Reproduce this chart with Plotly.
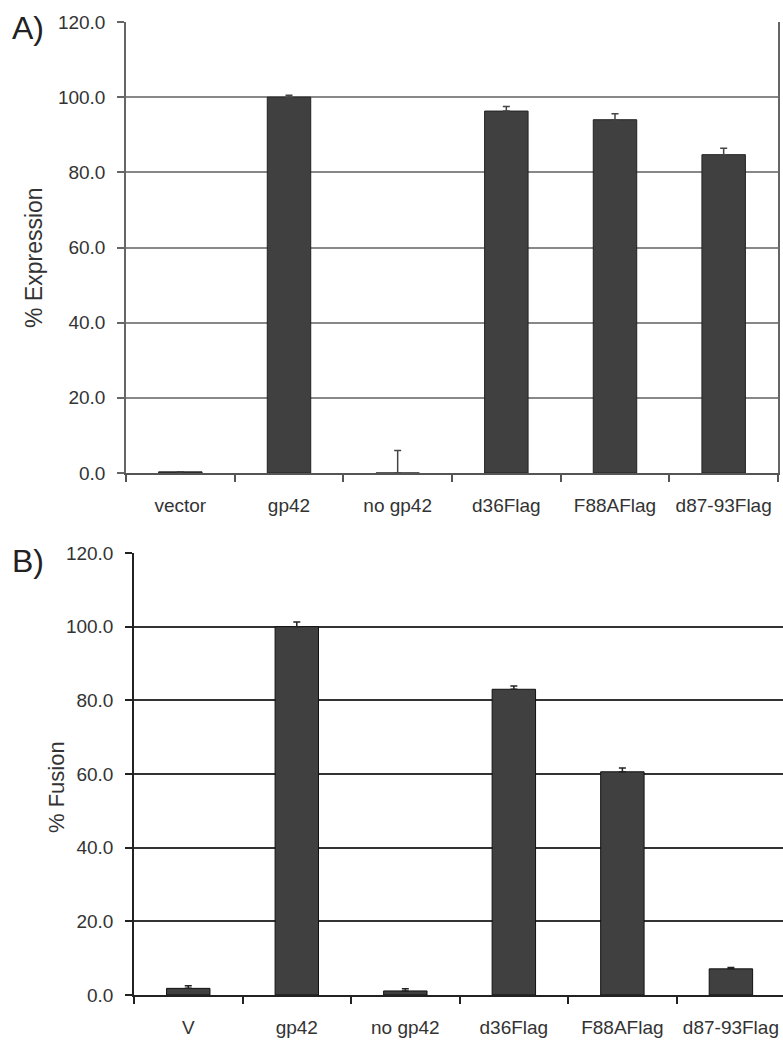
import plotly.graph_objects as go

W, H = 783, 1040

cats_a = ["vector", "gp42", "no gp42", "d36Flag", "F88AFlag", "d87-93Flag"]
vals_a = [0.3, 100.0, 0.0, 96.3, 94.0, 84.7]
err_a = [0.0, 0.5, 6.0, 1.2, 1.6, 1.7]

cats_b = ["V", "gp42", "no gp42", "d36Flag", "F88AFlag", "d87-93Flag"]
vals_b = [1.8, 100.0, 1.1, 83.0, 60.6, 7.1]
err_b = [0.7, 1.3, 0.6, 0.9, 1.0, 0.4]

yticks = [0, 20, 40, 60, 80, 100, 120]

BAR = "#404040"
TXT = "#333333"
FONT = "Liberation Sans, Arial, sans-serif"


def px_x(p):
    return p / W


def px_y(p):
    return 1 - p / H


fig = go.Figure()

fig.add_trace(go.Bar(
    x=cats_a, y=vals_a, width=0.4,
    marker=dict(color=BAR, line=dict(color="#222222", width=1)),
    error_y=dict(type="data", array=err_a, arrayminus=[0] * 6,
                 color="#444444", thickness=1.5, width=3.5),
    xaxis="x", yaxis="y", showlegend=False,
))
fig.add_trace(go.Bar(
    x=cats_b, y=vals_b, width=0.4,
    marker=dict(color=BAR, line=dict(color="#111111", width=1)),
    error_y=dict(type="data", array=err_b, arrayminus=[0] * 6,
                 color="#222222", thickness=1.5, width=3.5),
    xaxis="x2", yaxis="y2", showlegend=False,
))

tickfont = dict(family=FONT, size=19, color=TXT)

fig.update_layout(
    width=W, height=H,
    margin=dict(l=0, r=0, t=0, b=0, pad=0),
    paper_bgcolor="white", plot_bgcolor="white",
    xaxis=dict(
        domain=[px_x(126), px_x(778)], anchor="y", automargin=False,
        range=[-0.5, 5.5], type="category",
        showline=True, linecolor="#555555", linewidth=1.5,
        ticks="outside", tickson="boundaries", ticklen=7, tickcolor="#555555",
        tickwidth=1.5, showgrid=False, tickfont=tickfont, ticklabelstandoff=14,
    ),
    yaxis=dict(
        domain=[px_y(473), px_y(22)], anchor="x", automargin=False,
        range=[0, 120], tickvals=yticks, tickformat=".1f",
        showline=True, linecolor="#666666", linewidth=1.5, mirror=True,
        showgrid=True, gridcolor="#888888", gridwidth=1.5,
        ticks="outside", ticklen=7, tickcolor="#666666", tickwidth=1.5,
        tickfont=tickfont, ticklabelstandoff=8, zeroline=False,
    ),
    xaxis2=dict(
        domain=[px_x(134), 1.0], anchor="y2", automargin=False,
        range=[-0.5, 5.48], type="category",
        showline=True, linecolor="#222222", linewidth=1.5,
        ticks="outside", tickson="boundaries", ticklen=7, tickcolor="#222222",
        tickwidth=1.5, showgrid=False, tickfont=tickfont, ticklabelstandoff=14,
    ),
    yaxis2=dict(
        domain=[px_y(995), px_y(553)], anchor="x2", automargin=False,
        range=[0, 120], tickvals=yticks, tickformat=".1f",
        showline=True, linecolor="#222222", linewidth=1.5,
        showgrid=True, gridcolor="#333333", gridwidth=1.5,
        ticks="outside", ticklen=7, tickcolor="#222222", tickwidth=1.5,
        tickfont=tickfont, ticklabelstandoff=8, zeroline=False,
    ),
    annotations=[
        dict(text="A)", x=px_x(10), y=px_y(28), xref="paper", yref="paper",
             xanchor="left", yanchor="middle", showarrow=False,
             font=dict(family=FONT, size=32, color="#222222")),
        dict(text="B)", x=px_x(10), y=px_y(561), xref="paper", yref="paper",
             xanchor="left", yanchor="middle", showarrow=False,
             font=dict(family=FONT, size=32, color="#222222")),
        dict(text="% Expression", x=px_x(34), y=px_y(258), xref="paper", yref="paper",
             xanchor="center", yanchor="middle", showarrow=False, textangle=-90,
             font=dict(family=FONT, size=23, color=TXT)),
        dict(text="% Fusion", x=px_x(56), y=px_y(787), xref="paper", yref="paper",
             xanchor="center", yanchor="middle", showarrow=False, textangle=-90,
             font=dict(family=FONT, size=22, color=TXT)),
    ],
)

fig.write_html(
    "out.html",
    config={"displayModeBar": False},
    post_script="document.body.style.margin='0';document.body.style.overflow='hidden';",
)
